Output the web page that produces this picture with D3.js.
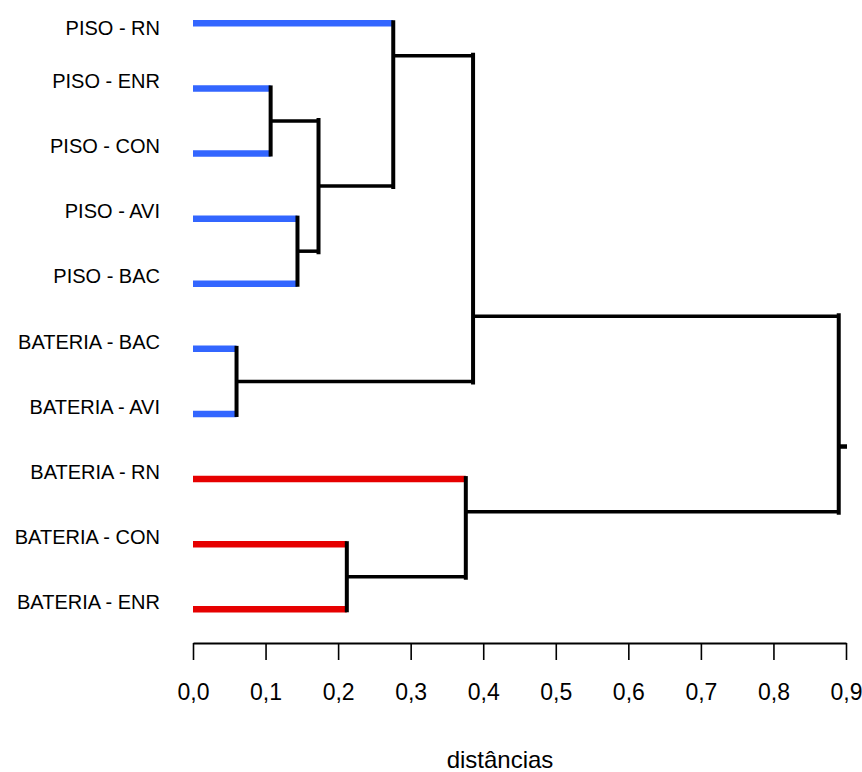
<html>
<head>
<script src="https://d3js.org/d3.v7.min.js"></script>
<style>
body { margin: 0; background: #fff; font-family: 'Liberation Sans', Arial, sans-serif; }
.axis .domain { stroke: #000; stroke-width: 2; }
.axis .tick line { stroke: #000; stroke-width: 1.6; }
.axis .tick text { fill: #000; font-size: 23px; font-family: 'Liberation Sans', Arial, sans-serif; }
</style>
</head>
<body>
<div id="plot"></div>
<script>

var width = 862;
var height = 772;

// leaves, top to bottom
var leafNames = ["PISO - RN", "PISO - ENR", "PISO - CON", "PISO - AVI", "PISO - BAC",
  "BATERIA - BAC", "BATERIA - AVI", "BATERIA - RN", "BATERIA - CON", "BATERIA - ENR"];
var leafCluster = [0, 0, 0, 0, 0, 0, 0, 1, 1, 1];
var clusterColors = ["#3366ff", "#e60000"];

// linkage: [upper child, lower child, distance]; new nodes get ids 10, 11, ...
var merges = [
  [1, 2, 0.107],
  [3, 4, 0.144],
  [10, 11, 0.173],
  [0, 12, 0.276],
  [5, 6, 0.060],
  [13, 14, 0.386],
  [8, 9, 0.212],
  [7, 16, 0.376],
  [15, 17, 0.890]
];

var tickValues = [0, 0.1, 0.2, 0.3, 0.4, 0.5, 0.6, 0.7, 0.8, 0.9];
var axisTitle = "distâncias";

var svg = d3.select("#plot").append("svg")
  .attr("width", width).attr("height", height);

var xScale = d3.scaleLinear().domain([0, 0.9]).range([193, 846]);
var yScale = d3.scaleLinear().domain([0, leafNames.length - 1]).range([23.3, 609.3]);

// node positions: leaves at their row, merges in the gap below the upper child
var nodes = leafNames.map(function (name, i) {
  return { x: xScale(0), y: yScale(i), last: i, leaf: true, cluster: leafCluster[i] };
});
merges.forEach(function (m) {
  var a = nodes[m[0]], b = nodes[m[1]];
  nodes.push({ x: xScale(m[2]), y: yScale(a.last + 0.5), last: b.last, leaf: false, a: a, b: b });
});

var hLines = [];
var vLines = [];
nodes.forEach(function (n) {
  if (n.leaf) return;
  [n.a, n.b].forEach(function (c) {
    hLines.push({ x1: c.x, x2: n.x, y: c.y, leaf: c.leaf, cluster: c.cluster });
  });
  vLines.push({ x: n.x, y1: n.a.y, y2: n.b.y });
});

svg.append("g").selectAll("line").data(hLines).enter().append("line")
  .attr("x1", function (d) { return d.x1; })
  .attr("x2", function (d) { return d.x2; })
  .attr("y1", function (d) { return d.y; })
  .attr("y2", function (d) { return d.y; })
  .style("stroke", function (d) { return d.leaf ? clusterColors[d.cluster] : "#000"; })
  .style("stroke-width", function (d) { return d.leaf ? 6.5 : 3.5; });

svg.append("g").selectAll("line").data(vLines).enter().append("line")
  .attr("x1", function (d) { return d.x; })
  .attr("x2", function (d) { return d.x; })
  .attr("y1", function (d) { return d.y1 - 3; })
  .attr("y2", function (d) { return d.y2 + 3; })
  .style("stroke", "#000")
  .style("stroke-width", 4);

// stub on the root
var root = nodes[nodes.length - 1];
svg.append("line")
  .attr("x1", root.x).attr("x2", xScale(0.9) + 1)
  .attr("y1", root.y).attr("y2", root.y)
  .style("stroke", "#000").style("stroke-width", 4.5);

// leaf labels
svg.append("g").selectAll("text").data(leafNames).enter().append("text")
  .attr("x", 160)
  .attr("y", function (d, i) { return yScale(i) + (i === 0 ? 4 : -7.5); })
  .attr("dy", "0.36em")
  .attr("text-anchor", "end")
  .style("font-size", "20px")
  .style("fill", "#000")
  .text(function (d) { return d; });

var xAxis = d3.axisBottom(xScale)
  .tickValues(tickValues)
  .tickSize(17)
  .tickSizeOuter(0)
  .tickPadding(24)
  .tickFormat(function (d) { return d3.format(".1f")(d).replace(".", ","); });

svg.append("g").attr("class", "axis")
  .attr("transform", "translate(0,643)")
  .call(xAxis);

svg.append("text")
  .attr("x", 500).attr("y", 768)
  .attr("text-anchor", "middle")
  .style("font-size", "24px")
  .style("fill", "#000")
  .text(axisTitle);

</script>
</body>
</html>
